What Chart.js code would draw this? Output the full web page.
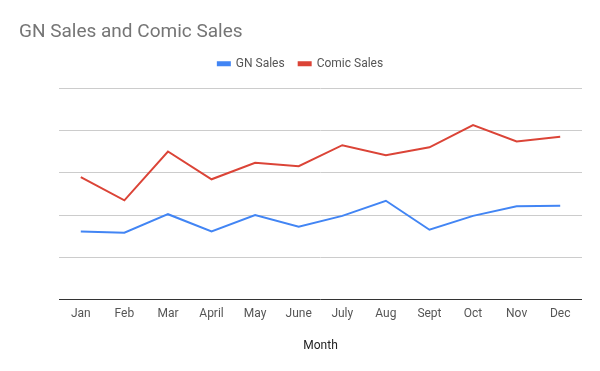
<!DOCTYPE html>
<html>
<head>
<meta charset="utf-8">
<script src="https://cdn.jsdelivr.net/npm/chart.js@4"></script>
<style>
  html, body { margin: 0; padding: 0; background: #fff; }
  #wrap { width: 600px; height: 371px; }
</style>
</head>
<body>
<div id="wrap"><canvas id="sales-chart"></canvas></div>
<script>
// Monthly GN vs comic sales (y units = gridline steps; axis has no labels).
var MONTHS = ['Jan', 'Feb', 'Mar', 'April', 'May', 'June', 'July', 'Aug', 'Sept', 'Oct', 'Nov', 'Dec'];
var GN_SALES = [1.61, 1.58, 2.02, 1.61, 2.00, 1.72, 1.98, 2.34, 1.65, 1.98, 2.21, 2.22];
var COMIC_SALES = [2.90, 2.35, 3.51, 2.85, 3.24, 3.16, 3.66, 3.42, 3.61, 4.14, 3.75, 3.86];

(function() {
  var FONT = 'Roboto, "Noto Sans", Arial, sans-serif';

  // push the plot down below the legend without moving the legend items
  var legendGap = {
    id: 'legendGap',
    beforeInit: function(chart) {
      var fit = chart.legend.fit;
      chart.legend.fit = function() {
        fit.call(this);
        this.height += 9;
      };
    }
  };

  new Chart(document.getElementById('sales-chart'), {
    type: 'line',
    data: {
      labels: MONTHS,
      datasets: [
        {
          label: 'GN Sales',
          data: GN_SALES,
          borderColor: '#4285f4',
          backgroundColor: '#4285f4',
          borderWidth: 2,
          pointRadius: 0,
          tension: 0
        },
        {
          label: 'Comic Sales',
          data: COMIC_SALES,
          borderColor: '#db4437',
          backgroundColor: '#db4437',
          borderWidth: 2,
          pointRadius: 0,
          tension: 0
        }
      ]
    },
    plugins: [legendGap],
    options: {
      responsive: true,
      maintainAspectRatio: false,
      animation: false,
      layout: { padding: { left: 19, right: 18, top: 0, bottom: 14 } },
      plugins: {
        title: {
          display: true,
          text: 'GN Sales and Comic Sales',
          align: 'start',
          color: '#757575',
          font: { family: FONT, size: 19, weight: 'normal' },
          padding: { top: 21, bottom: 0 }
        },
        legend: {
          position: 'top',
          labels: {
            color: '#555',
            font: { family: FONT, size: 12 },
            boxWidth: 12,
            boxHeight: 3,
            padding: 14
          }
        },
        tooltip: { enabled: false }
      },
      scales: {
        x: {
          offset: true,
          grid: { display: false, drawTicks: false },
          border: { display: false },
          ticks: { color: '#555', font: { family: FONT, size: 12 }, padding: 8, maxRotation: 0 },
          title: {
            display: true,
            text: 'Month',
            color: '#222',
            font: { family: FONT, size: 12 },
            padding: { top: 9, bottom: 4 }
          }
        },
        y: {
          min: 0,
          max: 5,
          ticks: { display: false, stepSize: 1 },
          border: { display: false },
          grid: {
            drawTicks: false,
            color: function(ctx) { return ctx.tick && ctx.tick.value === 0 ? '#333' : '#ccc'; },
            lineWidth: 1
          },
          afterFit: function(axis) { axis.width = 40; }
        }
      }
    }
  });
})();
</script>
</body>
</html>
